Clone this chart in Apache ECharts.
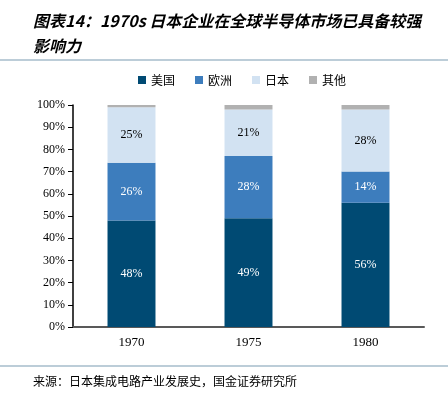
<!DOCTYPE html>
<html>
<head>
<meta charset="utf-8">
<script src="https://cdn.jsdelivr.net/npm/echarts@6/dist/echarts.min.js"></script>
<style>
html, body { margin: 0; padding: 0; background: #fff; }
#chart { width: 448px; height: 393px; }
</style>
</head>
<body>
<div id="chart"></div>
<script>
var years = ['1970', '1975', '1980'];
var usShare = [48, 49, 56];
var euShare = [26, 28, 14];
var jpShare = [25, 21, 28];
var otherShare = [1, 2, 2];

var titleText = '图表14：1970s 日本企业在全球半导体市场已具备较强\n影响力';
var sourceText = '来源：日本集成电路产业发展史，国金证券研究所';

var serif = '"Liberation Serif", "DejaVu Serif", serif';
var cjk = '"Noto Sans CJK SC", sans-serif';

var myChart = echarts.init(document.getElementById('chart'), null, { renderer: 'canvas' });

function barSeries(name, data, color, labelColor) {
    return {
        name: name,
        type: 'bar',
        stack: 'total',
        data: data,
        barWidth: '41%',
        itemStyle: { color: color },
        label: {
            show: name !== '其他',
            position: 'inside',
            formatter: '{c}%',
            color: labelColor,
            fontFamily: serif,
            fontSize: 12
        }
    };
}

var option = {
    animation: false,
    graphic: [
        {
            type: 'text',
            left: 33,
            top: 8,
            style: {
                text: titleText,
                font: 'italic bold 16px ' + cjk,
                lineHeight: 25,
                fill: '#000'
            }
        },
        {
            type: 'rect',
            shape: { x: 0, y: 59, width: 448, height: 2 },
            style: { fill: '#bccdd8' }
        },
        {
            type: 'rect',
            shape: { x: 0, y: 365, width: 448, height: 2 },
            style: { fill: '#bccdd8' }
        },
        {
            type: 'text',
            left: 33,
            top: 375,
            style: {
                text: sourceText,
                font: '12px ' + cjk,
                fill: '#000'
            }
        }
    ],
    legend: {
        top: 69,
        left: 133,
        itemWidth: 8,
        itemHeight: 8,
        itemGap: 20,
        icon: 'rect',
        textStyle: { fontFamily: cjk, fontSize: 12, color: '#000' },
        data: ['美国', '欧洲', '日本', '其他']
    },
    grid: { left: 73, right: 24, top: 105, bottom: 66 },
    xAxis: {
        type: 'category',
        data: years,
        axisLine: { lineStyle: { color: '#595959', width: 2 } },
        axisTick: { show: false },
        axisLabel: { color: '#000', fontFamily: serif, fontSize: 13, margin: 9 }
    },
    yAxis: {
        type: 'value',
        min: 0,
        max: 100,
        interval: 10,
        axisLine: { show: true, lineStyle: { color: '#000', width: 1.5 } },
        axisTick: { show: true, length: 5, lineStyle: { color: '#000' } },
        splitLine: { show: false },
        axisLabel: { color: '#000', fontFamily: serif, fontSize: 12, formatter: '{value}%', margin: 8 }
    },
    series: [
        barSeries('美国', usShare, '#004a73', '#fff'),
        barSeries('欧洲', euShare, '#3d7dbd', '#fff'),
        barSeries('日本', jpShare, '#d2e2f2', '#000'),
        barSeries('其他', otherShare, '#b1b1b1', '#000')
    ]
};

myChart.setOption(option);
</script>
</body>
</html>
